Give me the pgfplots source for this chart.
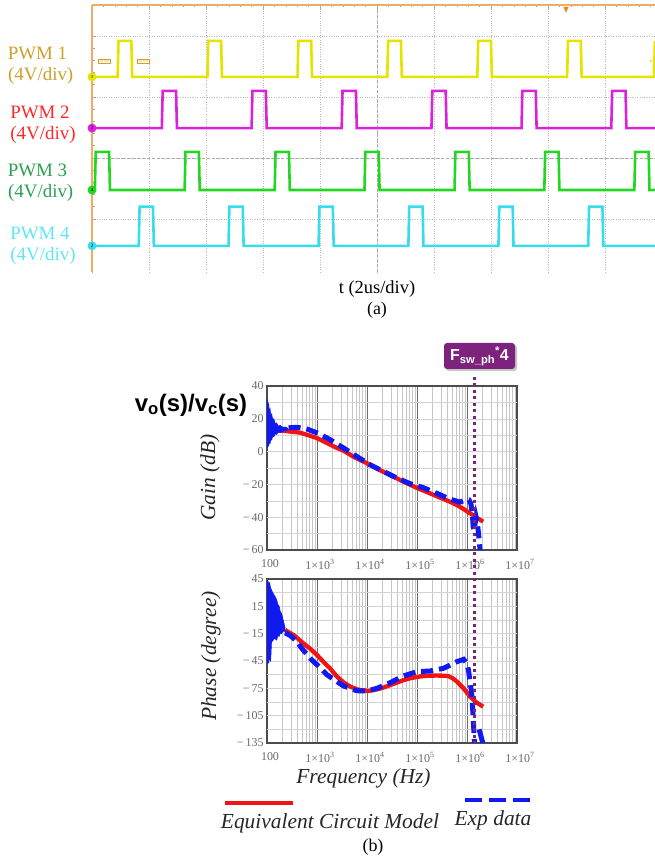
\documentclass[border=0pt]{standalone}
\usepackage{fontspec}
\setmainfont{Liberation Serif}
\newfontfamily\sansf{Liberation Sans}
\usepackage{pgfplots}
\pgfplotsset{compat=1.18}
\usetikzlibrary{shapes.geometric}

\definecolor{pwmA}{RGB}{228,228,0}
\definecolor{pwmB}{RGB}{218,34,218}
\definecolor{pwmC}{RGB}{34,214,34}
\definecolor{pwmD}{RGB}{56,220,234}
\definecolor{labA}{RGB}{205,160,40}
\definecolor{labB}{RGB}{255,40,40}
\definecolor{labC}{RGB}{40,160,80}
\definecolor{labD}{RGB}{95,230,245}
\definecolor{scopeor}{RGB}{240,172,95}
\definecolor{fsw}{RGB}{125,35,125}
\definecolor{tickgray}{RGB}{105,105,105}
\definecolor{cred}{RGB}{240,20,20}
\definecolor{cblue}{RGB}{15,25,240}

\begin{document}
\begin{tikzpicture}[x=1bp,y=1bp]
\path[use as bounding box] (0,0) rectangle (655,861);

%================ (a) oscilloscope =================
\begin{axis}[at={(92bp,589bp)}, anchor=south west, scale only axis,
 width=563bp, height=267bp,
 xmin=0, xmax=19.754, ymin=0.131, ymax=4.508,
 axis x line=top, axis y line=left,
 axis line style={draw=scopeor, line width=1.6bp, -},
 xtick={0,2,...,20}, ytick={1,2,3,4},
 minor x tick num=4, minor y tick num=4,
 xticklabels={}, yticklabels={},
 tick align=inside, major tick length=4bp, minor tick length=2.5bp,
 tick style={draw=gray!70, line width=0.6bp},
 grid=major, major grid style={draw=gray!55, dotted, line width=0.7bp},
 clip=false]
\draw[gray!65, line width=0.8bp, densely dashed] (axis cs:10,0.131) -- (axis cs:10,4.508);
\draw[gray!65, line width=0.8bp, densely dashed] (axis cs:0,2) -- (axis cs:19.754,2);
% PWM1
\addplot[pwmA, line width=2.6bp] coordinates {(0,3.33) (0.90,3.33) (0.93,3.92) (1.38,3.92) (1.41,3.33) (4.05,3.33) (4.08,3.92) (4.53,3.92) (4.56,3.33) (7.21,3.33) (7.24,3.92) (7.69,3.92) (7.72,3.33) (10.36,3.33) (10.39,3.92) (10.84,3.92) (10.87,3.33) (13.52,3.33) (13.55,3.92) (14.00,3.92) (14.03,3.33) (16.67,3.33) (16.70,3.92) (17.15,3.92) (17.18,3.33) (19.72,3.33) (19.75,3.92)};
% PWM2
\addplot[pwmB, line width=2.6bp] coordinates {(0,2.49) (2.45,2.49) (2.48,3.10) (2.95,3.10) (2.98,2.49) (5.60,2.49) (5.63,3.10) (6.10,3.10) (6.13,2.49) (8.76,2.49) (8.79,3.10) (9.26,3.10) (9.29,2.49) (11.91,2.49) (11.94,3.10) (12.41,3.10) (12.44,2.49) (15.07,2.49) (15.10,3.10) (15.57,3.10) (15.60,2.49) (18.22,2.49) (18.25,3.10) (18.72,3.10) (18.75,2.49) (19.75,2.49)};
% PWM3
\addplot[pwmC, line width=2.6bp] coordinates {(0,1.475) (0.10,1.475) (0.13,2.10) (0.60,2.10) (0.63,1.475) (3.25,1.475) (3.28,2.10) (3.75,2.10) (3.78,1.475) (6.41,1.475) (6.44,2.10) (6.91,2.10) (6.94,1.475) (9.56,1.475) (9.59,2.10) (10.06,2.10) (10.09,1.475) (12.72,1.475) (12.75,2.10) (13.22,2.10) (13.25,1.475) (15.87,1.475) (15.90,2.10) (16.37,2.10) (16.40,1.475) (19.03,1.475) (19.06,2.10) (19.53,2.10) (19.56,1.475) (19.75,1.475)};
% PWM4
\addplot[pwmD, line width=2.6bp] coordinates {(0,0.56) (1.64,0.56) (1.67,1.20) (2.14,1.20) (2.17,0.56) (4.79,0.56) (4.82,1.20) (5.29,1.20) (5.32,0.56) (7.95,0.56) (7.98,1.20) (8.45,1.20) (8.48,0.56) (11.10,0.56) (11.13,1.20) (11.60,1.20) (11.63,0.56) (14.26,0.56) (14.29,1.20) (14.76,1.20) (14.79,0.56) (17.41,0.56) (17.44,1.20) (17.91,1.20) (17.94,0.56) (19.75,0.56)};
% channel markers
\node[circle, fill=pwmA, inner sep=0pt, minimum size=9bp, font=\fontsize{5}{5}\selectfont] at (axis cs:0,3.33) {1};
\node[circle, fill=pwmB, inner sep=0pt, minimum size=9bp, font=\fontsize{5}{5}\selectfont] at (axis cs:0,2.49) {3};
\node[circle, fill=pwmC, inner sep=0pt, minimum size=9bp, font=\fontsize{5}{5}\selectfont] at (axis cs:0,1.475) {4};
\node[circle, fill=pwmD, inner sep=0pt, minimum size=9bp, font=\fontsize{5}{5}\selectfont] at (axis cs:0,0.56) {2};
\node[draw=labA, text=labA, fill=white, inner sep=0.8bp, font=\fontsize{4}{4}\selectfont] at (axis cs:0.42,3.59) {50.0\%};
\node[draw=labA, text=labA, fill=white, inner sep=0.8bp, font=\fontsize{4}{4}\selectfont] at (axis cs:1.81,3.59) {50.0\%};
\node[fill=orange, isosceles triangle, shape border rotate=-90, inner sep=0pt, minimum size=5bp] at (axis cs:16.63,4.45) {};
\fill[pwmA] (axis cs:19.61,3.59) circle (1.3bp);
\end{axis}

\node[labA, font=\fontsize{19}{19}\selectfont] at (37.5,808) {PWM 1};
\node[labA, font=\fontsize{19}{19}\selectfont] at (40.7,785) {(4V/div)};
\node[labB, font=\fontsize{19}{19}\selectfont] at (40,749) {PWM 2};
\node[labB, font=\fontsize{19}{19}\selectfont] at (43,726) {(4V/div)};
\node[labC, font=\fontsize{19}{19}\selectfont] at (37.5,691) {PWM 3};
\node[labC, font=\fontsize{19}{19}\selectfont] at (40.7,668) {(4V/div)};
\node[labD, font=\fontsize{19}{19}\selectfont] at (40,628) {PWM 4};
\node[labD, font=\fontsize{19}{19}\selectfont] at (43,605) {(4V/div)};
\node[font=\fontsize{18.5}{19}\selectfont] at (377,572) {t (2us/div)};
\node[font=\fontsize{18}{19}\selectfont] at (377,551) {(a)};

%================ (b) gain =================
\begin{axis}[at={(267bp,311bp)}, anchor=south west,
  scale only axis, width=250bp, height=164bp,
  xmode=log, xmin=100, xmax=1e7,
  xtick={100,1000,10000,100000,1000000,10000000},
  xticklabels={100,1×10\textsuperscript{3},1×10\textsuperscript{4},1×10\textsuperscript{5},1×10\textsuperscript{6},1×10\textsuperscript{7}},
  xmajorgrids=true, xminorgrids=true, ymajorgrids=false,
  major grid style={draw=gray!85!black, line width=0.8bp},
  minor grid style={draw=gray!45, line width=0.4bp},
  axis line style={draw=black!70, line width=1.1bp},
  major tick length=0pt, minor tick length=0pt,
  ticklabel style={font=\fontsize{12}{12}\selectfont, text=tickgray},
  xticklabel style={yshift=-6bp, xshift=3bp},
  ymin=-60, ymax=40, ytick={-60,-40,-20,0,20,40},
  yticklabels={−\,60,−\,40,−\,20,0,20,40},
  ylabel={Gain (dB)},
  ylabel style={font=\itshape\fontsize{21.5}{22}\selectfont, text=black!85, anchor=center, at={(axis description cs:-0.228,0.44)}},
  clip=true]
\draw[gray!35, line width=0.5bp] (axis cs:100,-50) -- (axis cs:1e7,-50);
\draw[gray!35, line width=0.5bp] (axis cs:100,-40) -- (axis cs:1e7,-40);
\draw[gray!35, line width=0.5bp] (axis cs:100,-30) -- (axis cs:1e7,-30);
\draw[gray!35, line width=0.5bp] (axis cs:100,-20) -- (axis cs:1e7,-20);
\draw[gray!35, line width=0.5bp] (axis cs:100,-10) -- (axis cs:1e7,-10);
\draw[gray!35, line width=0.5bp] (axis cs:100,0) -- (axis cs:1e7,0);
\draw[gray!35, line width=0.5bp] (axis cs:100,10) -- (axis cs:1e7,10);
\draw[gray!35, line width=0.5bp] (axis cs:100,20) -- (axis cs:1e7,20);
\draw[gray!35, line width=0.5bp] (axis cs:100,30) -- (axis cs:1e7,30);
\addplot[cred, line width=4.3bp] coordinates {(140,13.2) (200,12.8) (290,12.2) (450,11.6) (620,10.3) (985,8.3) (1500,5.6) (2400,2.5) (3400,0.5) (5500,-3.3) (9500,-6.8) (16000,-10.5) (29000,-14.3) (55000,-18.5) (102000,-22.3) (180000,-25.4) (290000,-28.1) (450000,-30.5) (630000,-32.6) (850000,-35) (1150000,-37.6) (1500000,-40) (2100000,-42.7)};
\addplot[cblue, fill=cblue, line width=0.6bp] coordinates {(100,2.5) (100,32) (103,31) (105,28) (108,29) (111,25) (115,26) (119,22) (124,23) (130,19.5) (137,20) (145,17) (155,17.5) (168,15.5) (185,16) (205,14.8) (230,15) (260,14.2) (260,13.2) (230,12.8) (205,12.3) (185,11.5) (168,11.8) (155,10.5) (145,10.8) (137,9) (130,9.5) (124,7) (119,7.5) (115,5) (111,5.5) (108,3.5) (105,4) (103,2.8) (100,2.5)};
\addplot[cblue, line width=5bp, dash pattern=on 12bp off 6bp] coordinates {(270,14.5) (400,14.8) (600,14.0) (1000,11.4) (1800,7.4) (3400,2.2) (6200,-2.9) (11500,-8.0) (21000,-12.0) (39000,-16.0) (72000,-19.5) (134000,-22.0) (247000,-25.4) (457000,-29.0) (720000,-30.8) (850000,-30) (980000,-29.3) (1100000,-29.5) (1200000,-32) (1280000,-38) (1330000,-46) (1380000,-48) (1450000,-44) (1520000,-40) (1600000,-43) (1700000,-50) (1800000,-58) (1870000,-65)};
\end{axis}

%================ (b) phase =================
\begin{axis}[at={(267bp,118bp)}, anchor=south west,
  scale only axis, width=250bp, height=164bp,
  xmode=log, xmin=100, xmax=1e7,
  xtick={100,1000,10000,100000,1000000,10000000},
  xticklabels={100,1×10\textsuperscript{3},1×10\textsuperscript{4},1×10\textsuperscript{5},1×10\textsuperscript{6},1×10\textsuperscript{7}},
  xmajorgrids=true, xminorgrids=true, ymajorgrids=false,
  major grid style={draw=gray!85!black, line width=0.8bp},
  minor grid style={draw=gray!45, line width=0.4bp},
  axis line style={draw=black!70, line width=1.1bp},
  major tick length=0pt, minor tick length=0pt,
  ticklabel style={font=\fontsize{12}{12}\selectfont, text=tickgray},
  xticklabel style={yshift=-6bp, xshift=3bp},
  ymin=-135, ymax=45, ytick={-135,-105,-75,-45,-15,15,45},
  yticklabels={−\,135,−\,105,−\,75,−\,45,−\,15,15,45},
  ylabel={Phase (degree)},
  ylabel style={font=\itshape\fontsize{21.5}{22}\selectfont, text=black!85, anchor=center, at={(axis description cs:-0.224,0.53)}},
  xlabel={Frequency (Hz)},
  xlabel style={font=\itshape\fontsize{21.5}{22}\selectfont, text=black!85, anchor=center, at={(axis description cs:0.386,-0.213)}},
  clip=true]
\draw[gray!35, line width=0.5bp] (axis cs:100,-120) -- (axis cs:1e7,-120);
\draw[gray!35, line width=0.5bp] (axis cs:100,-105) -- (axis cs:1e7,-105);
\draw[gray!35, line width=0.5bp] (axis cs:100,-90) -- (axis cs:1e7,-90);
\draw[gray!35, line width=0.5bp] (axis cs:100,-75) -- (axis cs:1e7,-75);
\draw[gray!35, line width=0.5bp] (axis cs:100,-60) -- (axis cs:1e7,-60);
\draw[gray!35, line width=0.5bp] (axis cs:100,-45) -- (axis cs:1e7,-45);
\draw[gray!35, line width=0.5bp] (axis cs:100,-30) -- (axis cs:1e7,-30);
\draw[gray!35, line width=0.5bp] (axis cs:100,-15) -- (axis cs:1e7,-15);
\draw[gray!35, line width=0.5bp] (axis cs:100,0) -- (axis cs:1e7,0);
\draw[gray!35, line width=0.5bp] (axis cs:100,15) -- (axis cs:1e7,15);
\draw[gray!35, line width=0.5bp] (axis cs:100,30) -- (axis cs:1e7,30);
\addplot[cred, line width=4.3bp] coordinates {(230,-11) (350,-17) (533,-25.6) (750,-32) (985,-38) (1350,-46) (1820,-53) (2500,-62) (3400,-68.5) (4600,-73) (6200,-76) (8500,-77.5) (11500,-77.6) (15500,-76.3) (21000,-74.3) (29000,-71.5) (39000,-68.8) (53000,-66.2) (72000,-64) (100000,-62.5) (134000,-61.5) (180000,-61.1) (247000,-61) (330000,-61.1) (420000,-61.5) (520000,-64) (630000,-67.7) (855000,-75) (1150000,-84.1) (1560000,-90.7) (2100000,-95.1)};
\addplot[cblue, fill=cblue, line width=0.6bp] coordinates {(100,44) (104,43) (108,40) (113,41) (118,35) (123,33) (130,30) (140,27) (148,25) (156,22) (165,17) (175,15) (185,9) (196,7) (215,-2) (229,-8) (229,-12) (215,-12) (196,-15) (185,-14) (175,-18) (165,-17) (156,-22) (140,-20) (130,-23) (123,-24) (120,-38) (118,-45) (112,-42) (108,-47) (104,-45) (100,-49) (100,44)};
\addplot[cblue, line width=5bp, dash pattern=on 12bp off 6bp] coordinates {(230,-14) (290,-17) (390,-23) (494,-31) (783,-43.8) (1150,-52) (1570,-60) (2400,-67) (3400,-72.4) (6200,-77.6) (9900,-78) (15800,-75) (29000,-68.8) (53000,-61.5) (100000,-56.7) (182000,-56) (340000,-53) (630000,-45.7) (855000,-43.2) (1000000,-48) (1070000,-55) (1240000,-80.6) (1340000,-110) (1420000,-140)};
\addplot[cblue, line width=5bp] coordinates {(1750000,-120) (2000000,-132) (2200000,-140)};
\end{axis}

% title and F_sw marker
\node[font=\sansf\bfseries\fontsize{24}{24}\selectfont] at (191,456) {v\textsubscript{o}(s)/v\textsubscript{c}(s)};
\fill[gray!45, rounded corners=3bp] (446,490) rectangle (517,516);
\node[fill=fsw, rounded corners=3bp, minimum width=71bp, minimum height=26bp, inner sep=0pt, text=white, font=\sansf\bfseries\fontsize{16}{16}\selectfont] at (479.5,505) {F\textsubscript{sw\_ph}\textsuperscript{*}4};
\draw[fsw, line width=3bp, dash pattern=on 3bp off 3.5bp] (474,484) -- (474,118);

% legend
\draw[cred, line width=4bp] (225,58) -- (293,58);
\draw[cblue, line width=4bp, dash pattern=on 17bp off 7bp] (465,61) -- (537,61);
\node[font=\itshape\fontsize{21.5}{22}\selectfont, text=black!85] at (330,38) {Equivalent Circuit Model};
\node[font=\itshape\fontsize{21.5}{22}\selectfont, text=black!85] at (493,41) {Exp data};
\node[font=\fontsize{18}{19}\selectfont] at (373,14) {(b)};
\end{tikzpicture}
\end{document}
